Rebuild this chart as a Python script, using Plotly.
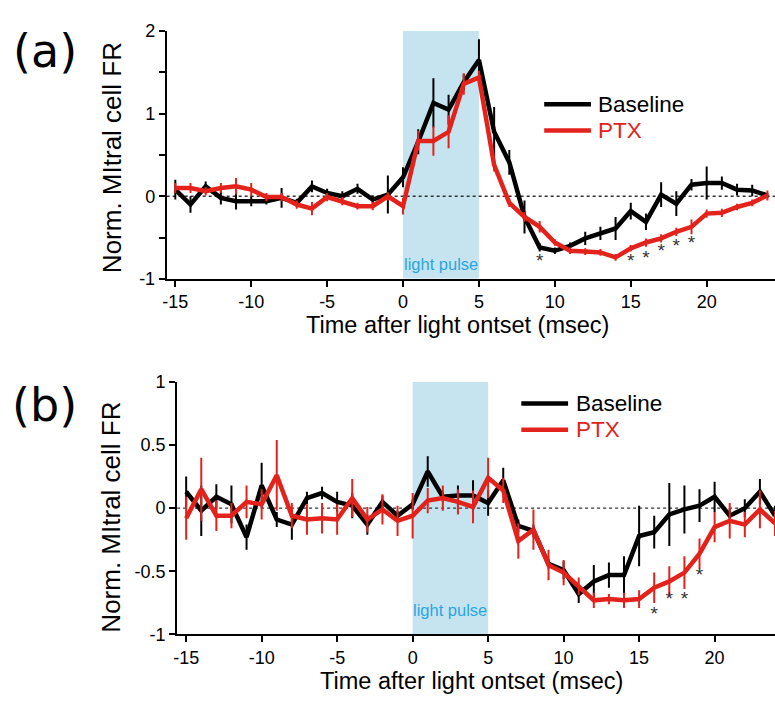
import plotly.graph_objects as go

W, H = 775, 705

# Time bins (msec after light onset)
time_ms = list(range(-15, 25))

# Panel (a): normalized mitral cell firing rate
a_baseline = [0.08, -0.10, 0.12, -0.02, -0.06, -0.06, -0.06, -0.02, -0.08, 0.12,
              0.04, 0.00, 0.09, -0.04, 0.02, 0.23, 0.66, 1.13, 1.05, 1.38,
              1.65, 0.78, 0.41, -0.25, -0.62, -0.66, -0.60, -0.51, -0.45, -0.39,
              -0.18, -0.31, 0.02, -0.09, 0.14, 0.16, 0.16, 0.08, 0.07, 0.01]
a_baseline_err = [0.12, 0.10, 0.06, 0.08, 0.10, 0.06, 0.04, 0.12, 0.05, 0.07,
                  0.05, 0.06, 0.06, 0.05, 0.23, 0.12, 0.15, 0.30, 0.18, 0.10,
                  0.25, 0.30, 0.15, 0.20, 0.05, 0.04, 0.04, 0.08, 0.08, 0.14,
                  0.10, 0.10, 0.15, 0.15, 0.07, 0.20, 0.08, 0.07, 0.07, 0.03]
a_ptx = [0.10, 0.10, 0.06, 0.10, 0.12, 0.08, -0.01, -0.01, -0.10, -0.15,
         -0.01, -0.06, -0.12, -0.12, 0.00, -0.12, 0.67, 0.67, 0.78, 1.36,
         1.44, 0.38, -0.08, -0.25, -0.37, -0.56, -0.66, -0.67, -0.68, -0.74,
         -0.63, -0.56, -0.51, -0.43, -0.37, -0.21, -0.20, -0.13, -0.08, 0.01]
a_ptx_err = [0.06, 0.06, 0.05, 0.06, 0.10, 0.08, 0.05, 0.05, 0.05, 0.08,
             0.05, 0.05, 0.04, 0.05, 0.05, 0.10, 0.12, 0.18, 0.20, 0.13,
             0.08, 0.08, 0.05, 0.06, 0.07, 0.04, 0.04, 0.04, 0.04, 0.04,
             0.04, 0.05, 0.05, 0.05, 0.09, 0.05, 0.05, 0.04, 0.04, 0.06]
a_star_t = [9, 15, 16, 17, 18, 19]
a_star_y = [-0.80, -0.80, -0.76, -0.68, -0.62, -0.58]

# Panel (b)
b_baseline = [0.13, -0.02, 0.09, 0.03, -0.23, 0.18, -0.09, -0.13, 0.08, 0.12,
              0.05, 0.02, -0.13, 0.05, -0.06, 0.03, 0.29, 0.09, 0.10, 0.10,
              0.04, 0.22, -0.14, -0.18, -0.44, -0.49, -0.68, -0.58, -0.53, -0.53,
              -0.22, -0.19, -0.05, -0.01, 0.02, 0.09, -0.06, 0.00, 0.13, -0.06]
b_baseline_err = [0.12, 0.20, 0.10, 0.15, 0.10, 0.18, 0.06, 0.12, 0.05, 0.05,
                  0.08, 0.10, 0.08, 0.05, 0.04, 0.04, 0.12, 0.04, 0.08, 0.12,
                  0.10, 0.10, 0.05, 0.05, 0.04, 0.07, 0.07, 0.13, 0.10, 0.15,
                  0.24, 0.13, 0.25, 0.19, 0.13, 0.12, 0.06, 0.07, 0.10, 0.08]
b_ptx = [-0.08, 0.15, -0.06, -0.06, 0.05, 0.03, 0.26, -0.06, -0.09, -0.08,
         -0.09, 0.08, -0.09, -0.01, -0.10, -0.06, 0.06, 0.08, 0.05, 0.01,
         0.24, 0.14, -0.26, -0.17, -0.45, -0.51, -0.62, -0.73, -0.72, -0.73,
         -0.72, -0.63, -0.58, -0.51, -0.36, -0.15, -0.10, -0.13, -0.01, -0.12]
b_ptx_err = [0.17, 0.25, 0.12, 0.10, 0.13, 0.12, 0.28, 0.10, 0.12, 0.12,
             0.12, 0.15, 0.10, 0.12, 0.12, 0.18, 0.10, 0.10, 0.10, 0.13,
             0.16, 0.10, 0.14, 0.16, 0.12, 0.10, 0.07, 0.06, 0.04, 0.06,
             0.07, 0.12, 0.12, 0.13, 0.12, 0.12, 0.14, 0.10, 0.15, 0.10]
b_star_t = [16, 17, 18, 19]
b_star_y = [-0.85, -0.73, -0.73, -0.54]

x_ticks = [-15, -10, -5, 0, 5, 10, 15, 20]
x_tick_text = ["-15", "-10", "-5", "0", "5", "10", "15", "20"]
a_y_ticks = [-1, -0.5, 0, 0.5, 1, 1.5, 2]
a_y_tick_text = ["-1", "", "0", "", "1", "", "2"]
b_y_ticks = [-1, -0.5, 0, 0.5, 1]
b_y_tick_text = ["-1", "-0.5", "0", "0.5", "1"]
pulse_start, pulse_end = 0, 5

RED = "#e3221c"
BLACK = "#000000"
PULSE = "#c6e4f0"
PULSE_TXT = "#2aa6df"
FONT = "Liberation Sans, Arial, sans-serif"


def px(x):
    return x / W


def py(y):
    return 1 - y / H


fig = go.Figure()


def add_panel(xa, ya, base, base_err, ptx, ptx_err, star_t, star_y):
    for vals, errs, col in ((base, base_err, BLACK), (ptx, ptx_err, RED)):
        fig.add_trace(go.Scatter(
            x=time_ms, y=vals, xaxis=xa, yaxis=ya, mode="lines",
            line=dict(color=col, width=4.5),
            error_y=dict(type="data", array=errs, color=col, thickness=2, width=0),
            showlegend=False, hoverinfo="skip"))
    fig.add_trace(go.Scatter(
        x=star_t, y=star_y, xaxis=xa, yaxis=ya, mode="text", text=["*"] * len(star_t),
        textfont=dict(size=19, color="#333333", family=FONT),
        showlegend=False, hoverinfo="skip"))


add_panel("x", "y", a_baseline, a_baseline_err, a_ptx, a_ptx_err, a_star_t, a_star_y)
add_panel("x2", "y2", b_baseline, b_baseline_err, b_ptx, b_ptx_err, b_star_t, b_star_y)

axis_common = dict(showgrid=False, zeroline=False, showline=True, linecolor="black",
                   linewidth=1.8, ticks="outside", ticklen=6, tickwidth=1.8,
                   tickcolor="black", tickfont=dict(family=FONT, size=18, color="black"))

fig.update_layout(
    width=W, height=H, margin=dict(l=0, r=0, t=0, b=0),
    plot_bgcolor="white", paper_bgcolor="white",
    xaxis=dict(domain=[px(163.5), 1.0], range=[-15.57, 24.5], tickvals=x_ticks,
               ticktext=x_tick_text, anchor="y", **axis_common),
    yaxis=dict(domain=[py(276.7), py(21.7)], range=[-1, 2],
               tickvals=a_y_ticks, ticktext=a_y_tick_text, anchor="x", **axis_common),
    xaxis2=dict(domain=[px(174), 1.0], range=[-15.6, 24.0], tickvals=x_ticks,
                ticktext=x_tick_text, anchor="y2", **axis_common),
    yaxis2=dict(domain=[py(642.7), py(382.7)], range=[-1, 1],
                tickvals=b_y_ticks, ticktext=b_y_tick_text, anchor="x2", **axis_common),
)

shapes = []
annotations = []
for xr, yr, ylo, yhi, xlo, xhi, frac in (("x", "y", -1, 2, -15.57, 24.5, 0.06),
                                         ("x2", "y2", -1, 1, -15.6, 24.0, 0.095)):
    shapes.append(dict(type="rect", xref=xr, yref=yr, x0=pulse_start, x1=pulse_end,
                       y0=ylo, y1=yhi, fillcolor=PULSE, line=dict(width=0), layer="below"))
    shapes.append(dict(type="line", xref=xr, yref=yr, x0=xlo, x1=xhi, y0=0, y1=0,
                       line=dict(color="#333333", width=1.3, dash="dot"), layer="below"))
    annotations.append(dict(xref=xr, yref=yr, x=(pulse_start + pulse_end) / 2,
                            y=ylo + (yhi - ylo) * frac, text="light pulse",
                            showarrow=False, font=dict(family=FONT, size=16.5, color=PULSE_TXT)))

# Legends drawn as line samples with labels
for (lx0, lx1, tx, yb, yp) in ((543, 590, 595, 97, 124), (520, 567, 573, 405, 432)):
    for yy, col, lbl in ((yb, BLACK, "Baseline"), (yp, RED, "PTX")):
        shapes.append(dict(type="line", xref="paper", yref="paper", x0=px(lx0), x1=px(lx1),
                           y0=py(yy), y1=py(yy), line=dict(color=col, width=4.5)))
        annotations.append(dict(xref="paper", yref="paper", x=px(tx), y=py(yy),
                                xanchor="left", yanchor="middle", text=lbl, showarrow=False,
                                font=dict(family=FONT, size=22.5, color=col)))

# Axis titles and panel letters
for cy, tx_x, tx_y, letter, ly in ((152, 456, 324, "(a)", 42), (522, 470, 691, "(b)", 407)):
    annotations.append(dict(xref="paper", yref="paper", x=px(108), y=py(cy),
                            text="Norm. MItral cell FR", textangle=-90, showarrow=False,
                            xanchor="center", yanchor="middle",
                            font=dict(family=FONT, size=26, color="black")))
    annotations.append(dict(xref="paper", yref="paper", x=px(tx_x), y=py(tx_y),
                            text="Time after light ontset (msec)", showarrow=False,
                            xanchor="center", yanchor="middle",
                            font=dict(family=FONT, size=23.5, color="black")))
    annotations.append(dict(xref="paper", yref="paper", x=px(41), y=py(ly),
                            text=letter, showarrow=False, xanchor="center", yanchor="middle",
                            font=dict(family="DejaVu Sans", size=46, color="black")))

fig.update_layout(shapes=shapes, annotations=annotations)
fig.write_html("out.html")
